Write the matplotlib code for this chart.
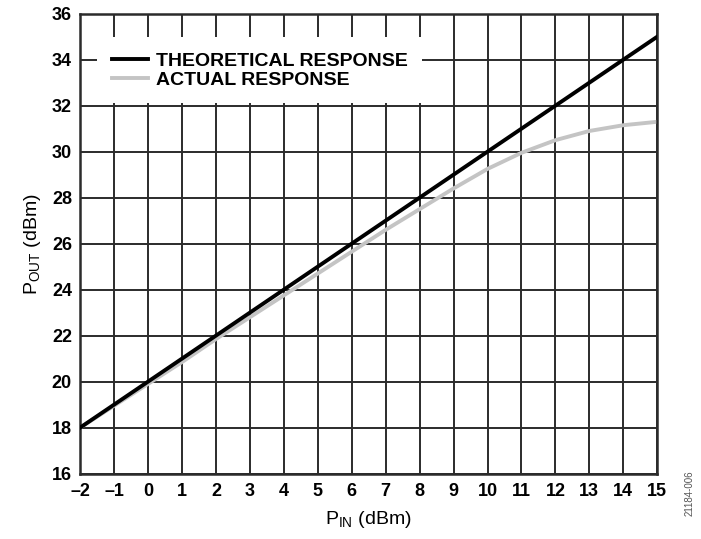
import matplotlib
matplotlib.use("Agg")
import matplotlib.pyplot as plt

# === data ===
pin_theory = [-2, 15]
pout_theory = [18, 35]

pin_actual = [-2, -1, 0, 1, 2, 3, 4, 5, 6, 7, 8, 9, 10, 11, 12, 13, 14, 15]
pout_actual = [18.0, 18.95, 19.9, 20.85, 21.85, 22.8, 23.75, 24.7, 25.65,
               26.6, 27.5, 28.4, 29.25, 29.95, 30.5, 30.9, 31.15, 31.3]

x_ticks = list(range(-2, 16))
y_ticks = list(range(16, 37, 2))

plt.rcParams['font.family'] = ['Liberation Sans', 'DejaVu Sans']
plt.rcParams['mathtext.fontset'] = 'custom'
plt.rcParams['mathtext.rm'] = 'Liberation Sans'

fig = plt.figure(figsize=(7.01, 5.39), dpi=100)
ax = fig.add_axes([0.1145, 0.1215, 0.823, 0.853])

grid_c = '#2b2b2b'
ax.plot(pin_theory, pout_theory, color='black', lw=2.8, label='THEORETICAL RESPONSE', zorder=3)
ax.plot(pin_actual, pout_actual, color='#c4c4c4', lw=2.8, label='ACTUAL RESPONSE', zorder=2)

ax.set_xlim(-2, 15)
ax.set_ylim(16, 36)
ax.set_xticks(x_ticks)
ax.set_yticks(y_ticks)
ax.set_xticklabels(['\u2013' + str(-v) if v < 0 else str(v) for v in x_ticks])
ax.grid(True, color=grid_c, lw=1.4)
ax.set_axisbelow(True)
for s in ax.spines.values():
    s.set_color(grid_c)
    s.set_linewidth(1.8)
ax.tick_params(length=0, labelsize=13)
ax.tick_params(axis='x', pad=7)
ax.tick_params(axis='y', pad=6)
for lab in ax.get_xticklabels() + ax.get_yticklabels():
    lab.set_fontweight('bold')

ax.set_xlabel(r'P$_{\mathregular{IN}}$ (dBm)', fontsize=14, labelpad=6)
ax.set_ylabel(r'P$_{\mathregular{OUT}}$ (dBm)', fontsize=14, labelpad=6)

# legend box sits over the grid, white, no border
leg = ax.legend(loc='upper left', bbox_to_anchor=(0.0295, 0.9485), frameon=True,
                fancybox=False, framealpha=1, edgecolor='white',
                prop={'weight': 'bold', 'size': 14}, handlelength=1.85,
                handletextpad=0.4, borderpad=0.75, borderaxespad=0,
                labelspacing=0.08)
leg.get_frame().set_linewidth(0)

fig.text(0.983, 0.085, '21184-006', rotation=90, fontsize=7, color='#555555',
         ha='center', va='center')

fig.savefig('out.png', dpi=100)
